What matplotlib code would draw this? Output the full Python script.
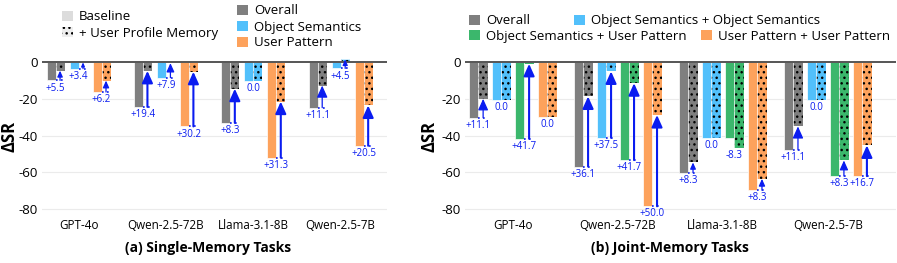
import numpy as np
import matplotlib
matplotlib.use('Agg')
import matplotlib.pyplot as plt
from matplotlib.patches import Patch

plt.rcParams['font.family'] = ['Open Sans', 'DejaVu Sans']
plt.rcParams['hatch.linewidth'] = 1.0

# Datos
models = ['GPT-4o', 'Qwen-2.5-72B', 'Llama-3.1-8B', 'Qwen-2.5-7B']

single_cats = ['Overall', 'Object Semantics', 'User Pattern']
single_base = [
    [-10.0, -24.4, -33.1, -24.8],
    [-3.6, -8.5, -10.1, -3.5],
    [-16.3, -35.0, -52.0, -45.5],
]
single_mem = [
    [-4.7, -4.8, -14.5, -12.8],
    [-0.2, -0.6, -10.1, 1.4],
    [-10.1, -5.3, -21.5, -23.6],
]
single_labels = [
    ['+5.5', '+19.4', '+8.3', '+11.1'],
    ['+3.4', '+7.9', '0.0', '+4.5'],
    ['+6.2', '+30.2', '+31.3', '+20.5'],
]

joint_cats = ['Overall', 'Object Semantics + Object Semantics',
              'Object Semantics + User Pattern', 'User Pattern + User Pattern']
joint_base = [
    [-30.3, -56.8, -60.2, -47.8],
    [-20.6, -41.2, -41.2, -20.6],
    [-41.7, -53.3, -41.2, -62.0],
    [-29.7, -78.4, -69.7, -62.0],
]
joint_mem = [
    [-20.0, -18.7, -54.6, -35.0],
    [-20.6, -5.1, -41.2, -20.6],
    [-1.0, -11.5, -46.9, -53.5],
    [-29.7, -28.8, -63.5, -45.3],
]
joint_labels = [
    ['+11.1', '+36.1', '+8.3', '+11.1'],
    ['0.0', '+37.5', '0.0', '0.0'],
    ['+41.7', '+41.7', '-8.3', '+8.3'],
    ['0.0', '+50.0', '+8.3', '+16.7'],
]

yticks = [0, -20, -40, -60, -80]
ytick_labels = ['0', '-20', '-40', '-60', '-80']

col_overall = '#7f7f7f'
col_os = '#52c0fb'
col_osup = '#3bb76c'
col_up = '#fda25c'
blue = '#0a1cf0'

W, H = 897, 263
fig = plt.figure(figsize=(W / 100, H / 100), dpi=100)

ax1 = fig.add_axes([42 / W, 1 - 216.6 / H, 345 / W, 160.1 / H])
ax2 = fig.add_axes([465 / W, 1 - 216.6 / H, 431 / W, 160.1 / H])


def draw_panel(ax, base, mem, labels, colors, bar_w, pair_pitch, xlim):
    ax.set_ylim(-84, 3)
    ax.set_xlim(*xlim)
    ax.set_yticks(yticks)
    ax.set_yticklabels(ytick_labels, fontsize=9.5)
    ax.set_xticks(range(len(models)))
    ax.set_xticklabels(models, fontsize=8.4)
    ax.tick_params(length=0)
    ax.tick_params(axis='y', pad=3)
    ax.tick_params(axis='x', pad=2)
    for s in ax.spines.values():
        s.set_visible(False)
    for t in yticks[1:]:
        ax.axhline(t, color='#ebebeb', lw=0.8, zorder=0)
    ax.set_ylabel('ΔSR', fontsize=12, fontweight='bold')

    px_unit = ax.transData.transform((0, 1))[1] - ax.transData.transform((0, 0))[1]
    n = len(base)
    x = np.arange(len(models))
    for j in range(n):
        pc = x + (j - (n - 1) / 2) * pair_pitch
        xb = pc - bar_w / 2
        xm = pc + bar_w / 2
        ax.bar(xb, base[j], bar_w, color=colors[j], edgecolor='white', lw=0.5, zorder=2)
        ax.bar(xm, mem[j], bar_w, color=colors[j], edgecolor='black', hatch='...', lw=0, zorder=2)
        ax.bar(xm, mem[j], bar_w, fill=False, edgecolor='white', lw=0.5, zorder=2)
        for i in range(len(models)):
            b, m = base[j][i], mem[j][i]
            if m > b:
                ax.hlines(b, xm[i] - bar_w / 2, xm[i] + bar_w / 2, colors=blue,
                          linestyles=(0, (1, 2)), lw=1.2, zorder=3)
                len_px = (m - b) * px_unit
                hl = min(10.0, 0.5 * len_px) * 0.72
                lw = 1.5 if len_px > 30 else 0.9
                ax.annotate('', xy=(xm[i], m), xytext=(xm[i], b),
                            arrowprops=dict(arrowstyle='-|>,head_length=%.2f,head_width=%.2f' % (hl, hl * 0.45),
                                            mutation_scale=1, color=blue, lw=lw,
                                            shrinkA=0, shrinkB=0), zorder=4)
            ax.annotate(labels[j][i], xy=(pc[i], min(b, m)), xytext=(0, -5.5),
                        textcoords='offset points', ha='center', va='center',
                        fontsize=7, color=blue, zorder=5)
    ax.axhline(0, color='#555555', lw=1.4, zorder=3)


draw_panel(ax1, single_base, single_mem, single_labels,
           [col_overall, col_os, col_up], 0.103, 0.263, (-0.418, 3.53))
ax1.yaxis.set_label_coords(-0.067, 0.5)

draw_panel(ax2, joint_base, joint_mem, joint_labels,
           [col_overall, col_os, col_osup, col_up], 0.0886, 0.219, (-0.457, 3.65))
ax2.yaxis.set_label_coords(-0.061, 0.5)

fig.text(208 / W, 1 - 248 / H, '(a) Single-Memory Tasks', ha='center', va='center',
         fontsize=10, fontweight='bold')
fig.text(670 / W, 1 - 248 / H, '(b) Joint-Memory Tasks', ha='center', va='center',
         fontsize=10, fontweight='bold')


def add_key(handle, label, x, y):
    leg = fig.legend([handle], [label], loc='center left',
                     bbox_to_anchor=(x / W, 1 - y / H), frameon=False,
                     borderpad=0, borderaxespad=0, fontsize=9.5,
                     handlelength=0.8, handleheight=0.8, handletextpad=0.5)
    return leg


add_key(Patch(facecolor='#dcdcdc'), 'Baseline', 62, 17)
add_key(Patch(facecolor='#eeeeee', edgecolor='black', hatch='...', lw=0), '+ User Profile Memory', 62, 33)
add_key(Patch(facecolor=col_overall), single_cats[0], 237, 10.7)
add_key(Patch(facecolor=col_os), single_cats[1], 237, 27)
add_key(Patch(facecolor=col_up), single_cats[2], 237, 43)

add_key(Patch(facecolor=col_overall), joint_cats[0], 469, 20.7)
add_key(Patch(facecolor=col_os), joint_cats[1], 574, 20.7)
add_key(Patch(facecolor=col_osup), joint_cats[2], 469, 36)
add_key(Patch(facecolor=col_up), joint_cats[3], 701, 36)

fig.savefig('out.png', dpi=100)
